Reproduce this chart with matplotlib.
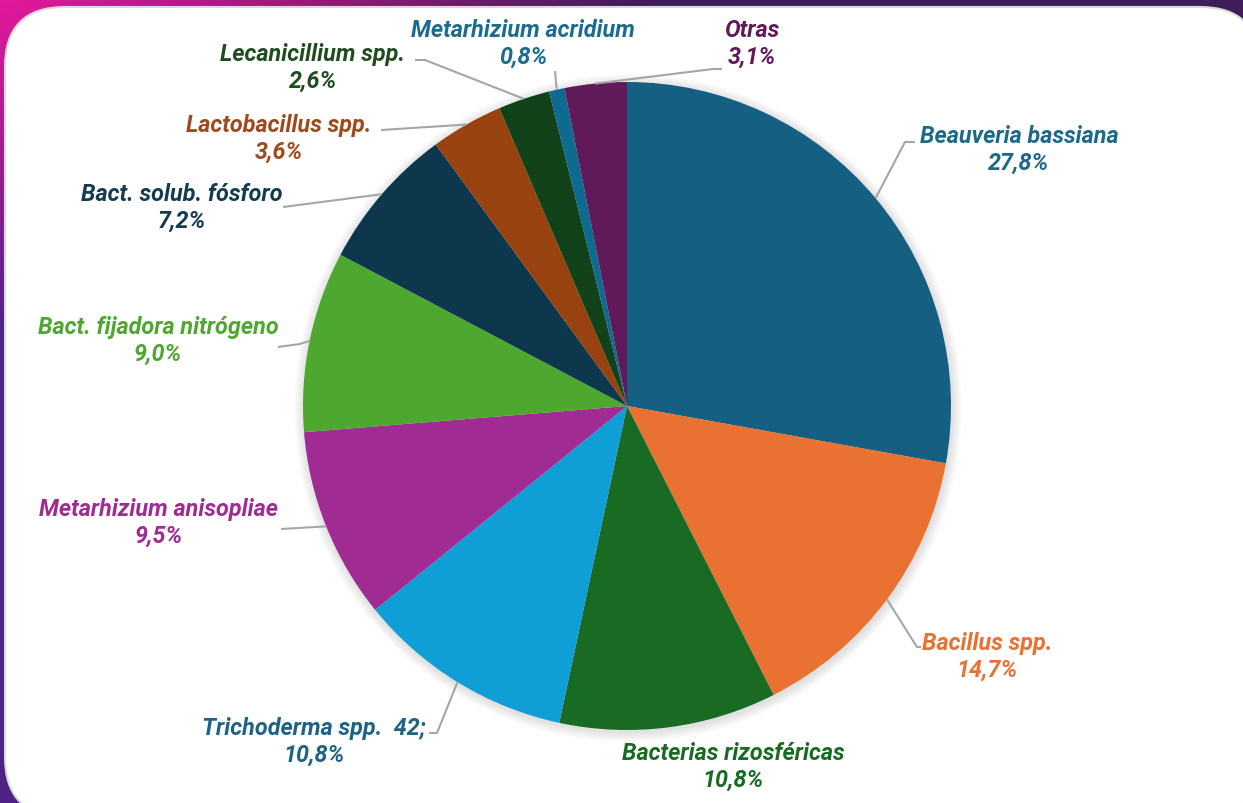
import numpy as np
import matplotlib
matplotlib.use("Agg")
import matplotlib.pyplot as plt
from matplotlib.patches import FancyBboxPatch, Circle
from matplotlib.colors import to_rgb

W, H = 1243, 804

# product counts per microorganism group
names = ["Beauveria bassiana", "Bacillus spp.", "Bacterias rizosféricas",
         "Trichoderma spp.  42;", "Metarhizium anisopliae", "Bact. fijadora nitrógeno",
         "Bact. solub. fósforo", "Lactobacillus spp.", "Lecanicillium spp.",
         "Metarhizium acridium", "Otras"]
counts = [108, 57, 42, 42, 37, 35, 28, 14, 10, 3, 12]
pct_text = ["27,8%", "14,7%", "10,8%", "10,8%", "9,5%", "9,0%",
            "7,2%", "3,6%", "2,6%", "0,8%", "3,1%"]

slice_colors = ["#156082", "#E97132", "#196B24", "#0F9ED5", "#A02B93", "#4EA72E",
                "#0D374C", "#97420F", "#11421A", "#0E6A8E", "#601A5A"]
label_colors = ["#1B6A8A", "#E97132", "#196B24", "#1D6384", "#A02B93", "#4EA72E",
                "#143C50", "#9E4A1C", "#1F4D20", "#1A6D8E", "#601A5A"]

# label centres (px, y down), leader elbow + end points (None = no leader)
label_pos = [(1019, 150), (987, 657), (733, 767), (314, 742), (159, 523), (158, 341),
             (182, 208), (279, 139), (313, 68), (523, 44), (752, 44)]
leaders = [[(905, 143), (915, 143)], [(917, 648), (921, 648)], None,
           [(437, 734), (429, 734)], [(281, 530)], [(300, 345), (278, 348)],
           [(283, 208)], [(381, 131)], [(425, 61), (415, 61)],
           [(555, 72)], [(713, 70), (722, 70)]]

cx, cy, R = 627, 407, 324


def fy(y):
    return H - y


fig = plt.figure(figsize=(W / 100, H / 100), dpi=100)
ax = fig.add_axes([0, 0, 1, 1])

# magenta -> purple backdrop
xx, yy = np.meshgrid(np.arange(W), np.arange(H))
t = np.clip(np.sqrt((xx / 650.0) ** 2 + (yy / 330.0) ** 2), 0, 1)[..., None]
pink = np.array(to_rgb("#E3199B"))
purple_r = np.array(to_rgb("#3F1D58"))
purple_b = np.array(to_rgb("#4F2286"))
mixw = (yy / (yy + xx * 0.6 + 1))[..., None]
purple = purple_r * (1 - mixw) + purple_b * mixw
bg = pink * (1 - t) + purple * t
ax.imshow(bg, extent=[0, W, 0, H], origin="upper", zorder=0, aspect="auto")

card = FancyBboxPatch((5, fy(818)), 1255, 810, boxstyle="round,pad=0,rounding_size=60",
                      facecolor="white", edgecolor="#DADADA", linewidth=1.5, zorder=1)
ax.add_patch(card)

# soft shadow under the pie
for k in range(10):
    ax.add_patch(Circle((cx + 1, fy(cy + 2)), R + 10 - k, facecolor="black",
                        edgecolor="none", alpha=0.012, zorder=2))

wedges, _ = ax.pie(counts, colors=slice_colors, startangle=90, counterclock=False,
                   center=(cx, fy(cy)), radius=R, frame=True,
                   wedgeprops=dict(linewidth=0, zorder=3))

for i, w in enumerate(wedges):
    x, y = label_pos[i]
    ax.text(x, fy(y), names[i] + "\n" + pct_text[i], ha="center", va="center",
            color=label_colors[i], fontsize=16.8, fontweight="bold", fontstyle="italic",
            family=["Roboto", "DejaVu Sans"], linespacing=1.25, zorder=5)
    if leaders[i] is None:
        continue
    mid = np.deg2rad((w.theta1 + w.theta2) / 2)
    pts = [(cx + R * np.cos(mid), fy(cy) + R * np.sin(mid))]
    pts += [(px, fy(py)) for px, py in leaders[i]]
    ax.plot([p[0] for p in pts], [p[1] for p in pts], color="#A6A6A6", lw=1.5,
            zorder=4, solid_capstyle="butt")

ax.set_xlim(0, W)
ax.set_ylim(0, H)
ax.set_aspect("auto")
ax.axis("off")

fig.savefig("out.png", dpi=100)
